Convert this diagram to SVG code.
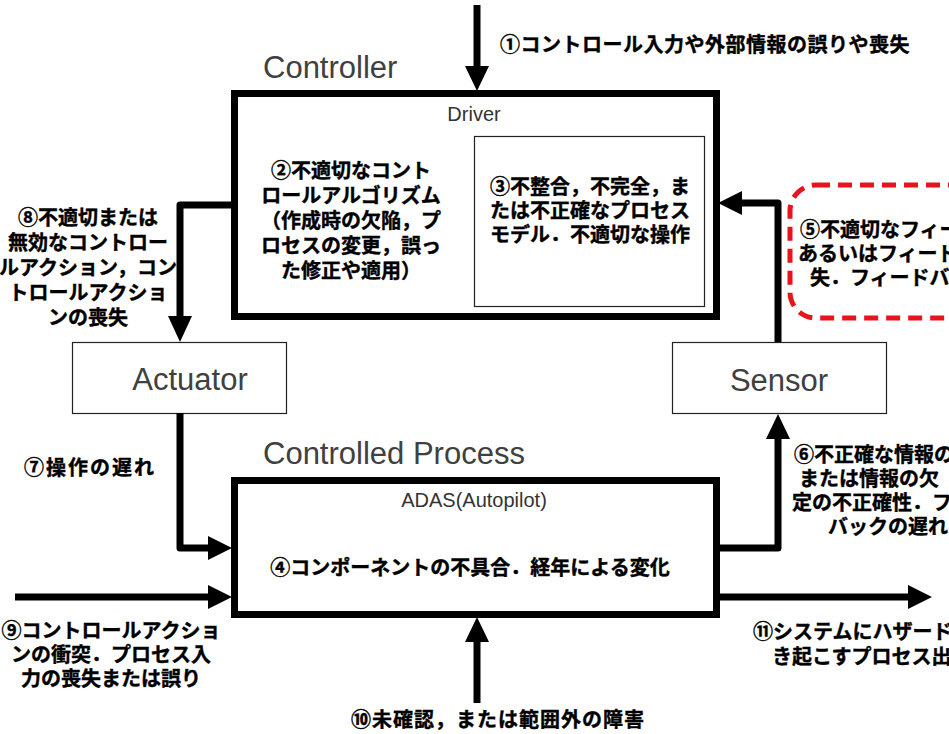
<svg xmlns="http://www.w3.org/2000/svg" width="949" height="734" viewBox="0 0 949 734">
<style>
.lat{font-family:"Liberation Sans",Arial,sans-serif;fill:#404040}
.big{font-size:31px}
.small{font-size:20px;fill:#333}
.jp{font-family:"Noto Sans CJK JP","Noto Sans",sans-serif;font-size:20px;font-weight:700;fill:#000;stroke:#000;stroke-width:0.4}
.mid{text-anchor:middle}
.box{fill:#fff;stroke:#000;stroke-width:7}
.thin{fill:#fff;stroke:#222;stroke-width:1.2}
.ln{fill:none;stroke:#000;stroke-width:7;stroke-linejoin:round}
.hd{fill:#000}
</style>
<rect width="949" height="734" fill="#fff"/>
<g id="controller">
<text class="lat big" x="263" y="78">Controller</text>
<rect class="box" x="234.5" y="93.5" width="482" height="223"/>
<text class="lat small mid" x="474" y="121">Driver</text>
<text class="jp mid" x="351" y="178">②不適切なコント</text>
<text class="jp mid" x="351" y="203">ロールアルゴリズム</text>
<text class="jp mid" x="351" y="228">（作成時の欠陥，プ</text>
<text class="jp mid" x="351" y="253">ロセスの変更，誤っ</text>
<text class="jp mid" x="351" y="278">た修正や適用）</text>
</g>
<g id="process-model">
<rect class="thin" x="474.5" y="136.5" width="230" height="170"/>
<text class="jp mid" x="590" y="194">③不整合，不完全，ま</text>
<text class="jp mid" x="590" y="218">たは不正確なプロセス</text>
<text class="jp mid" x="590" y="242">モデル．不適切な操作</text>
</g>
<g id="actuator">
<rect class="thin" x="72.5" y="342.5" width="214" height="71"/>
<text class="lat big mid" x="190" y="390">Actuator</text>
</g>
<g id="sensor">
<rect class="thin" x="672.5" y="342.5" width="214" height="71"/>
<text class="lat big mid" x="779" y="391">Sensor</text>
</g>
<g id="controlled-process">
<text class="lat big" x="263" y="464">Controlled Process</text>
<rect class="box" x="234.5" y="480.5" width="482" height="134"/>
<text class="lat small mid" x="474" y="507">ADAS(Autopilot)</text>
<text class="jp mid" x="470" y="575">④コンポーネントの不具合．経年による変化</text>
</g>
<g id="feedback-note">
<rect x="790" y="185" width="200" height="133" rx="26" fill="none" stroke="#e8141b" stroke-width="5" stroke-dasharray="14 8"/>
<text class="jp" x="800" y="237">⑤不適切なフィー</text>
<text class="jp" x="798" y="261">あるいはフィード</text>
<text class="jp" x="810" y="285">失．フィードバッ</text>
</g>
<g id="connectors">
<path class="ln" d="M477 5V68"/>
<polygon class="hd" points="465,66 489,66 477,91"/>
<path class="ln" d="M231 205H180V318"/>
<polygon class="hd" points="168,316 192,316 180,342"/>
<path class="ln" d="M778 342V203H740"/>
<polygon class="hd" points="742,191 742,215 718,203"/>
<path class="ln" d="M180 413V548H210"/>
<polygon class="hd" points="208,536 208,560 232,548"/>
<path class="ln" d="M15 597H210"/>
<polygon class="hd" points="208,585 208,609 232,597"/>
<path class="ln" d="M719 548H778V437"/>
<polygon class="hd" points="766,439 790,439 778,414"/>
<path class="ln" d="M719 597H910"/>
<polygon class="hd" points="908,585 908,609 932,597"/>
<path class="ln" d="M477 703V640"/>
<polygon class="hd" points="465,642 489,642 477,617"/>
</g>
<g id="labels">
<text class="jp" x="500" y="52" style="letter-spacing:0.5px">①コントロール入力や外部情報の誤りや喪失</text>
<text class="jp mid" x="88" y="225">⑧不適切または</text>
<text class="jp mid" x="88" y="250">無効なコントロー</text>
<text class="jp mid" x="88" y="275">ルアクション，コン</text>
<text class="jp mid" x="88" y="300">トロールアクショ</text>
<text class="jp mid" x="88" y="325">ンの喪失</text>
<text class="jp" x="24" y="475" style="letter-spacing:2px">⑦操作の遅れ</text>
<text class="jp" x="794" y="462">⑥不正確な情報の</text>
<text class="jp" x="799" y="486">または情報の欠</text>
<text class="jp" x="792" y="510">定の不正確性．フ</text>
<text class="jp" x="828" y="534">バックの遅れ</text>
<text class="jp mid" x="111" y="638">⑨コントロールアクショ</text>
<text class="jp mid" x="111" y="662">ンの衝突．プロセス入</text>
<text class="jp mid" x="111" y="686">力の喪失または誤り</text>
<text class="jp mid" x="498" y="727" style="letter-spacing:1px">⑩未確認，または範囲外の障害</text>
<text class="jp" x="753" y="639">⑪システムにハザード</text>
<text class="jp" x="772" y="664">き起こすプロセス出</text>
</g>
</svg>
